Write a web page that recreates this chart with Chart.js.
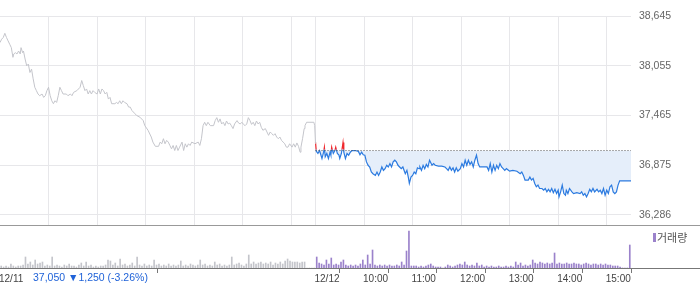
<!DOCTYPE html>
<html lang="ko">
<head>
<meta charset="utf-8">
<title>주가 차트</title>
<script src="https://cdn.jsdelivr.net/npm/chart.js@4.4.1/dist/chart.umd.min.js"></script>
<style>
  html, body { margin: 0; padding: 0; background: #fff; }
  #wrap { position: relative; width: 700px; height: 289px; overflow: hidden; }
  #price-chart { position: absolute; left: 0; top: 0; }
  #volume-chart { position: absolute; left: 0; top: 226px; }
</style>
</head>
<body>
<div id="wrap">
  <canvas id="price-chart" width="700" height="226"></canvas>
  <canvas id="volume-chart" width="700" height="63"></canvas>
</div>
<script>
// --- DỮ LIỆU / 데이터 (분 단위: 0 = 12/11 09:00, 390 = 12/12 09:00, 780 = 12/12 15:30) ---
const BASE_PRICE = 37050; // 기준가 (점선)
const Y_TICKS = [36286, 36875, 37465, 38055, 38645];
const Y_MIN = 36167;
const Y_MAX = 38645;

const GRID_TIMES = [60, 120, 180, 240, 300, 360, 390, 450, 510, 570, 630, 690, 750];
const TICK_TIMES = [0, 390, 450, 510, 570, 630, 690, 750];
const TICK_LABELS = ['12/11', '12/12', '10:00', '11:00', '12:00', '13:00', '14:00', '15:00'];

const LAST_PRICE = '37,050';
const CHANGE = '1,250';
const CHANGE_PCT = '-3.26%';

// 전일 (12/11) 가격
const prevTimes = [
    0, 2, 4, 6, 8, 10, 12, 14, 16, 17,
    19, 21, 23, 25, 26, 28, 29, 31, 33, 35,
    37, 39, 41, 43, 45, 47, 49, 52, 54, 56,
    58, 60, 62, 64, 66, 68, 70, 72, 74, 76,
    78, 82, 84, 87, 89, 91, 95, 99, 101, 103,
    105, 107, 109, 111, 113, 115, 117, 120, 122, 124,
    126, 128, 130, 132, 134, 136, 138, 142, 144, 146,
    148, 150, 152, 154, 157, 159, 161, 163, 167, 169,
    173, 177, 179, 183, 187, 189, 192, 196, 198, 200,
    202, 204, 206, 208, 210, 212, 214, 216, 218, 220,
    222, 225, 227, 229, 231, 233, 235, 237, 241, 245,
    247, 249, 251, 253, 255, 257, 260, 264, 266, 268,
    270, 272, 274, 276, 278, 280, 282, 284, 286, 288,
    290, 293, 295, 297, 299, 301, 303, 305, 307, 309,
    311, 313, 315, 317, 319, 321, 323, 325, 328, 330,
    332, 334, 336, 338, 340, 342, 344, 346, 348, 350,
    352, 354, 356, 358, 361, 363, 365, 367, 369, 371,
    372, 374, 376, 377, 379, 388, 389, 390
];
const prevPrices = [
    38330, 38370, 38390, 38440, 38390, 38350, 38310, 38270, 38155, 38195,
    38210, 38195, 38230, 38195, 38270, 38210, 38230, 38135, 38055, 38075,
    37975, 38015, 37900, 37800, 37760, 37720, 37700, 37720, 37680, 37700,
    37760, 37800, 37700, 37640, 37605, 37640, 37620, 37700, 37800, 37760,
    37720, 37720, 37700, 37720, 37700, 37740, 37760, 37800, 37880, 37820,
    37760, 37780, 37720, 37760, 37720, 37760, 37740, 37720, 37780, 37720,
    37780, 37760, 37720, 37740, 37660, 37680, 37605, 37605, 37620, 37605,
    37640, 37605, 37640, 37620, 37605, 37565, 37565, 37525, 37485, 37465,
    37445, 37405, 37345, 37290, 37210, 37150, 37100, 37100, 37150, 37130,
    37190, 37130, 37170, 37150, 37110, 37070, 37110, 37050, 37110, 37050,
    37090, 37150, 37050, 37130, 37090, 37130, 37110, 37150, 37130, 37150,
    37110, 37190, 37345, 37385, 37345, 37385, 37345, 37345, 37405, 37440,
    37385, 37425, 37365, 37385, 37345, 37400, 37365, 37375, 37345, 37310,
    37365, 37405, 37375, 37365, 37385, 37360, 37345, 37365, 37440, 37405,
    37360, 37385, 37345, 37400, 37365, 37385, 37325, 37290, 37310, 37270,
    37230, 37270, 37250, 37230, 37250, 37210, 37190, 37210, 37170, 37150,
    37130, 37090, 37090, 37130, 37090, 37130, 37090, 37140, 37100, 37030,
    37090, 37190, 37310, 37345, 37385, 37385, 37345, 37130
];

// 당일 (12/12) 가격
const todayTimes = [
    390, 391, 393, 395, 398, 400, 401, 402, 404, 406,
    408, 409, 410, 412, 414, 415, 417, 419, 420, 422,
    424, 425, 427, 429, 431, 433, 435, 439, 443, 445,
    447, 449, 451, 453, 455, 457, 459, 461, 464, 466,
    468, 470, 472, 474, 476, 478, 480, 482, 484, 486,
    488, 490, 492, 494, 496, 498, 501, 503, 505, 506,
    508, 510, 512, 514, 516, 518, 519, 521, 523, 525,
    527, 529, 531, 534, 536, 538, 542, 546, 550, 552,
    554, 556, 558, 560, 562, 564, 566, 569, 571, 573,
    575, 577, 579, 581, 583, 585, 587, 589, 591, 593,
    602, 604, 606, 608, 610, 612, 614, 616, 618, 620,
    622, 624, 626, 630, 634, 639, 643, 645, 647, 649,
    653, 655, 657, 659, 661, 663, 665, 667, 670, 672,
    674, 676, 678, 680, 682, 684, 686, 688, 690, 691,
    693, 695, 697, 699, 700, 702, 704, 707, 709, 713,
    717, 719, 721, 723, 725, 727, 729, 731, 733, 735,
    738, 740, 742, 744, 746, 748, 750, 752, 754, 756,
    758, 760, 762, 764, 766, 780
];
const todayPrices = [
    37150, 37040, 37015, 37050, 36955, 37030, 37090, 36975, 37015, 36955,
    37030, 36995, 37090, 37015, 37050, 37090, 37015, 36995, 36955, 37015,
    37145, 37030, 36955, 37015, 36995, 37030, 37050, 37050, 37040, 37000,
    37030, 37000, 36995, 36915, 36875, 36855, 36795, 36775, 36755, 36795,
    36755, 36795, 36855, 36815, 36835, 36875, 36855, 36895, 36855, 36915,
    36935, 36915, 36875, 36855, 36835, 36855, 36775, 36815, 36720, 36660,
    36735, 36755, 36795, 36775, 36845, 36835, 36855, 36815, 36875, 36835,
    36885, 36855, 36935, 36875, 36895, 36875, 36865, 36865, 36855, 36835,
    36815, 36855, 36815, 36845, 36795, 36845, 36805, 36835, 36895, 36855,
    36935, 36875, 36935, 36885, 36915, 36855, 36935, 36995, 36895, 36855,
    36855, 36815, 36895, 36795, 36875, 36815, 36875, 36835, 36895, 36855,
    36835, 36815, 36835, 36805, 36815, 36805, 36775, 36795, 36755, 36700,
    36700, 36735, 36700, 36720, 36660, 36620, 36640, 36600, 36600, 36580,
    36600, 36560, 36590, 36560, 36600, 36550, 36590, 36540, 36580, 36500,
    36560, 36640, 36540, 36520, 36580, 36540, 36600, 36560, 36540, 36550,
    36540, 36560, 36520, 36540, 36500, 36540, 36590, 36560, 36600, 36560,
    36590, 36560, 36580, 36540, 36600, 36520, 36580, 36540, 36620, 36640,
    36560, 36540, 36560, 36640, 36690, 36690
];

// 거래량 (3분 단위, 천주)
const VOL_STEP = 3;
const prevVolume = [
    2, 1, 2, 1, 4, 2, 1, 2, 2, 3,
    11, 4, 6, 3, 8, 4, 5, 6, 2, 3,
    2, 11, 2, 3, 2, 1, 3, 2, 4, 2,
    2, 1, 3, 5, 2, 6, 2, 3, 1, 2,
    1, 2, 2, 3, 8, 7, 3, 5, 2, 9,
    3, 4, 2, 3, 5, 2, 11, 3, 2, 4,
    2, 3, 2, 8, 3, 4, 2, 3, 2, 4,
    2, 3, 2, 3, 7, 2, 3, 2, 4, 3,
    2, 3, 8, 3, 4, 2, 3, 2, 6, 3,
    4, 2, 3, 2, 3, 11, 3, 4, 5, 3,
    2, 4, 13, 4, 6, 4, 5, 6, 4, 5,
    4, 6, 3, 5, 4, 6, 4, 7, 9, 7,
    6, 6, 6, 5, 6, 6, 0, 0, 0, 0
];
const todayVolume = [
    11, 5, 4, 3, 8, 4, 10, 3, 4, 3,
    6, 8, 3, 2, 3, 2, 3, 2, 4, 8,
    3, 13, 4, 18, 3, 2, 3, 2, 3, 2,
    3, 2, 2, 3, 2, 6, 3, 17, 37, 2,
    2, 2, 1, 2, 1, 2, 3, 4, 2, 1,
    1, 1, 0, 1, 3, 2, 1, 2, 3, 4,
    3, 6, 3, 2, 3, 2, 5, 2, 3, 1,
    2, 1, 2, 1, 1, 2, 1, 1, 2, 1,
    2, 1, 6, 3, 5, 2, 3, 2, 3, 8,
    5, 4, 6, 5, 4, 5, 4, 5, 15, 4,
    5, 4, 4, 5, 4, 4, 5, 4, 4, 3,
    4, 5, 4, 3, 4, 4, 3, 4, 3, 4,
    3, 3, 2, 2, 2, 1, 0, 0, 0, 23
];

document.addEventListener('DOMContentLoaded', () => {
    const getEl = (id) => document.getElementById(id);
    const FONT = '"Liberation Sans", Arial, sans-serif';
    const GRID_COLOR = '#e7e7ea';
    const VOL_COLOR = '#9b82cb';

    const toPoints = (xs, ys) => xs.map((x, i) => ({ x: x, y: ys[i] }));
    const prevPoints = toPoints(prevTimes, prevPrices);
    const todayPoints = toPoints(todayTimes, todayPrices);

    // 축 라벨 때문에 생기는 여백 제거
    const noLabelPadding = (s) => {
        s.paddingTop = 0;
        s.paddingBottom = 0;
        s.paddingLeft = 0;
        s.paddingRight = 0;
    };

    // 기준선 위/아래로 선 색을 나누기 위한 clip
    const sideClipPlugin = {
        id: 'sideClip',
        beforeDatasetDraw(chart, args) {
            const side = chart.data.datasets[args.index].clipSide;
            if (!side) return;
            const { ctx, chartArea } = chart;
            const yRef = chart.scales.y.getPixelForValue(BASE_PRICE) - 1;
            ctx.save();
            ctx.beginPath();
            if (side === 'above') {
                ctx.rect(chartArea.left, chartArea.top - 5, chartArea.width, yRef - chartArea.top + 5);
            } else {
                ctx.rect(chartArea.left, yRef, chartArea.width, chartArea.bottom - yRef + 5);
            }
            ctx.clip();
        },
        afterDatasetDraw(chart, args) {
            if (chart.data.datasets[args.index].clipSide) chart.ctx.restore();
        }
    };

    // 전체 폭 바닥선
    const baseLinePlugin = {
        id: 'baseLine',
        afterDraw(chart, args, opts) {
            const { ctx, chartArea } = chart;
            const y = Math.round(chartArea.bottom) + 0.5;
            ctx.save();
            ctx.strokeStyle = opts.color;
            ctx.lineWidth = 1;
            ctx.beginPath();
            ctx.moveTo(0, y);
            ctx.lineTo(chart.width, y);
            ctx.stroke();
            ctx.restore();
        }
    };

    // --- 가격 차트 ---
    new Chart(getEl('price-chart'), {
        type: 'line',
        data: {
            datasets: [
                {
                    data: prevPoints,
                    borderColor: '#c4c5cb',
                    borderWidth: 1,
                    pointRadius: 0,
                    fill: false,
                    order: 1
                },
                {
                    data: [{ x: 390, y: BASE_PRICE }, { x: 780, y: BASE_PRICE }],
                    borderColor: '#555',
                    borderWidth: 1,
                    borderDash: [1, 2],
                    pointRadius: 0,
                    fill: false,
                    order: 2
                },
                {
                    data: todayPoints,
                    borderColor: '#f0282d',
                    borderWidth: 1.2,
                    pointRadius: 0,
                    fill: false,
                    clipSide: 'above',
                    order: 3
                },
                {
                    data: todayPoints,
                    borderColor: '#2c7be0',
                    borderWidth: 1.2,
                    pointRadius: 0,
                    fill: { target: { value: BASE_PRICE }, above: 'rgba(0,0,0,0)', below: '#e5eefa' },
                    clipSide: 'below',
                    order: 4
                }
            ]
        },
        options: {
            responsive: false,
            animation: false,
            layout: { padding: { top: 16, bottom: 1, left: 0, right: 0 } },
            plugins: {
                legend: { display: false },
                tooltip: { enabled: false },
                baseLine: { color: '#999' }
            },
            scales: {
                x: {
                    type: 'linear',
                    min: 0,
                    max: 780,
                    offset: false,
                    grid: { color: GRID_COLOR, drawTicks: false },
                    border: { display: false },
                    ticks: { display: false },
                    afterBuildTicks: (s) => { s.ticks = GRID_TIMES.map(v => ({ value: v })); },
                    afterFit: (s) => { s.height = 0; noLabelPadding(s); }
                },
                y: {
                    position: 'right',
                    min: Y_MIN,
                    max: Y_MAX,
                    grid: { color: GRID_COLOR, drawTicks: false },
                    border: { display: false },
                    ticks: {
                        color: '#666',
                        padding: 8,
                        font: { family: FONT, size: 10.5 },
                        callback: (v) => v.toLocaleString('en-US')
                    },
                    afterBuildTicks: (s) => { s.ticks = Y_TICKS.map(v => ({ value: v })); },
                    afterFit: (s) => { s.width = 69; noLabelPadding(s); }
                }
            }
        },
        plugins: [sideClipPlugin, baseLinePlugin]
    });

    // --- 거래량 차트 ---
    const volumeNotePlugin = {
        id: 'volumeNote',
        afterDraw(chart) {
            const { ctx } = chart;
            ctx.save();
            ctx.textBaseline = 'middle';
            ctx.font = `10.5px ${FONT}`;
            ctx.fillStyle = '#1f62d8';
            ctx.fillText(`${LAST_PRICE} \u25BC${CHANGE} (${CHANGE_PCT})`, 33, 52);
            // 범례
            ctx.fillStyle = VOL_COLOR;
            ctx.fillRect(653, 7, 3, 9);
            ctx.fillStyle = '#555';
            ctx.font = '11px "Noto Sans CJK KR", sans-serif';
            ctx.fillText('거래량', 657, 12);
            ctx.restore();
        }
    };

    new Chart(getEl('volume-chart'), {
        type: 'bar',
        data: {
            datasets: [
                {
                    data: prevVolume.map((v, i) => ({ x: i * VOL_STEP + VOL_STEP / 2, y: v })),
                    backgroundColor: '#c4c5cb',
                    barThickness: 1,
                    grouped: false
                },
                {
                    data: todayVolume.map((v, i) => ({ x: 390 + i * VOL_STEP + VOL_STEP / 2, y: v })),
                    backgroundColor: VOL_COLOR,
                    barThickness: 1,
                    grouped: false
                }
            ]
        },
        options: {
            responsive: false,
            animation: false,
            layout: { padding: { top: 0, right: 69, left: 0, bottom: 0 } },
            plugins: {
                legend: { display: false },
                tooltip: { enabled: false },
                baseLine: { color: '#777' }
            },
            scales: {
                x: {
                    type: 'linear',
                    min: 0,
                    max: 780,
                    offset: false,
                    grid: {
                        drawOnChartArea: false,
                        drawTicks: true,
                        tickLength: 5,
                        color: (ctx) => (ctx.tick && ctx.tick.value === 0) ? 'rgba(0,0,0,0)' : '#777'
                    },
                    border: { display: false },
                    ticks: {
                        align: 'start',
                        padding: 0,
                        labelOffset: -1,
                        color: '#444',
                        autoSkip: false,
                        maxRotation: 0,
                        font: { family: FONT, size: 10 },
                        callback: (v) => TICK_LABELS[TICK_TIMES.indexOf(v)]
                    },
                    afterBuildTicks: (s) => { s.ticks = TICK_TIMES.map(v => ({ value: v })); },
                    afterFit: (s) => { s.height = 21; noLabelPadding(s); }
                },
                y: { display: false, min: 0, max: 42 }
            }
        },
        plugins: [baseLinePlugin, volumeNotePlugin]
    });
});
</script>
</body>
</html>
